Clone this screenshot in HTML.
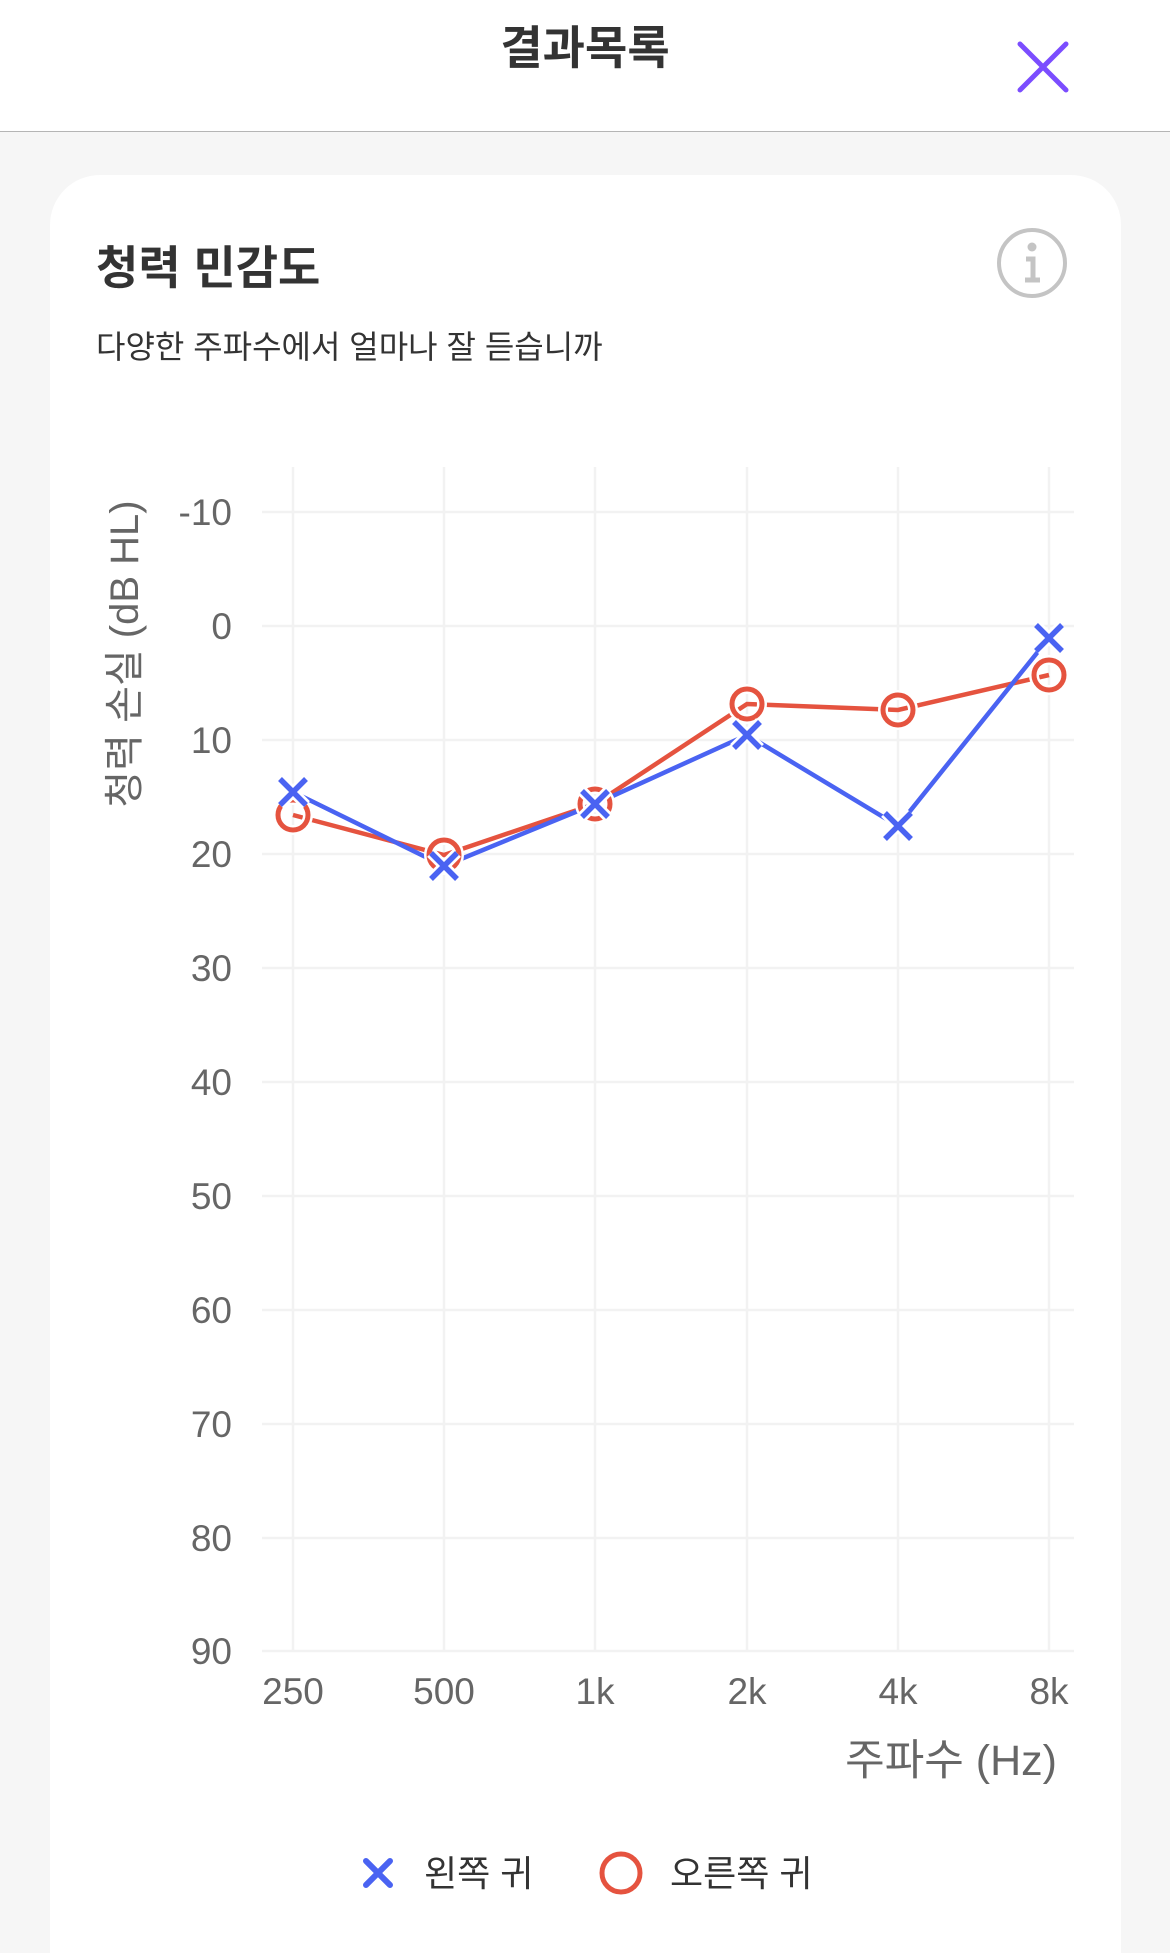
<!DOCTYPE html>
<html style="overflow:hidden;height:1953px"><head><meta charset="utf-8"><style>
body{margin:0;width:1170px;height:1953px;background:#f6f6f6;font-family:"Liberation Sans","Noto Sans CJK KR",sans-serif;overflow:hidden;position:relative}
.hdr{position:absolute;left:0;top:0;width:1170px;height:131px;background:#fff;border-bottom:1.5px solid #b5b5b5}
.card{position:absolute;left:50px;top:175px;width:1071px;height:1778px;background:#fff;border-radius:50px 50px 0 0}
</style></head><body>
<div class="hdr"></div>
<div style="position:absolute;left:0;width:1170px;top:12px;text-align:center;font-size:46px;font-weight:bold;color:#333">결과목록</div>
<svg style="position:absolute;left:1017px;top:41px" width="52" height="52"><path d="M3 3L49 49M49 3L3 49" stroke="#7b4dff" stroke-width="5" stroke-linecap="round"/></svg>
<div class="card"></div>
<div style="position:absolute;left:96px;top:232px;font-size:46px;font-weight:bold;color:#333">청력 민감도</div>
<div style="position:absolute;left:96px;top:322px;font-size:32px;color:#333">다양한 주파수에서 얼마나 잘 듣습니까</div>
<svg style="position:absolute;left:0;top:0" width="1170" height="1953" font-family="Liberation Sans, Noto Sans CJK KR, sans-serif">
<circle cx="1032" cy="263" r="33" fill="none" stroke="#c4c4c4" stroke-width="4"/>
<circle cx="1032" cy="247" r="4.5" fill="#c4c4c4"/>
<path d="M1026 259h7v20M1025 280h15" stroke="#c4c4c4" stroke-width="5" fill="none"/>
<g stroke="#f2f2f2" stroke-width="2.5">
<line x1="262" x2="1074" y1="512" y2="512"/><line x1="262" x2="1074" y1="626" y2="626"/><line x1="262" x2="1074" y1="740" y2="740"/><line x1="262" x2="1074" y1="854" y2="854"/><line x1="262" x2="1074" y1="968" y2="968"/><line x1="262" x2="1074" y1="1082" y2="1082"/><line x1="262" x2="1074" y1="1196" y2="1196"/><line x1="262" x2="1074" y1="1310" y2="1310"/><line x1="262" x2="1074" y1="1424" y2="1424"/><line x1="262" x2="1074" y1="1538" y2="1538"/><line x1="262" x2="1074" y1="1651" y2="1651"/>
<line x1="293" x2="293" y1="467" y2="1651"/><line x1="444" x2="444" y1="467" y2="1651"/><line x1="595" x2="595" y1="467" y2="1651"/><line x1="747" x2="747" y1="467" y2="1651"/><line x1="898" x2="898" y1="467" y2="1651"/><line x1="1049" x2="1049" y1="467" y2="1651"/>
</g>
<g fill="#666" font-size="37" text-anchor="end">
<text x="232" y="525">-10</text><text x="232" y="639">0</text><text x="232" y="753">10</text><text x="232" y="867">20</text><text x="232" y="981">30</text><text x="232" y="1095">40</text><text x="232" y="1209">50</text><text x="232" y="1323">60</text><text x="232" y="1437">70</text><text x="232" y="1551">80</text><text x="232" y="1664">90</text>
</g>
<g fill="#666" font-size="37" text-anchor="middle">
<text x="293" y="1704">250</text><text x="444" y="1704">500</text><text x="595" y="1704">1k</text><text x="747" y="1704">2k</text><text x="898" y="1704">4k</text><text x="1049" y="1704">8k</text>
</g>
<text x="1057" y="1775" fill="#666" font-size="43" text-anchor="end">주파수 (Hz)</text>
<text transform="translate(138,654) rotate(-90)" fill="#666" font-size="40" text-anchor="middle">청력 손실 (dB HL)</text>
<polyline points="293,815 444,855 595,804 747,704 898,710 1049,675" fill="none" stroke="#e5533f" stroke-width="4.5"/>
<polyline points="293,792 444,866 595,804 747,735 898,826 1049,638" fill="none" stroke="#4a63f2" stroke-width="4.5"/>
<g fill="none">
<g stroke="#fff" stroke-width="10"><circle cx="293" cy="815" r="15"/><circle cx="444" cy="855" r="15"/><circle cx="595" cy="804" r="15"/><circle cx="747" cy="704" r="15"/><circle cx="898" cy="710" r="15"/><circle cx="1049" cy="675" r="15"/></g>
<g stroke="#e5533f" stroke-width="5"><circle cx="293" cy="815" r="15"/><circle cx="444" cy="855" r="15"/><circle cx="595" cy="804" r="15"/><circle cx="747" cy="704" r="15"/><circle cx="898" cy="710" r="15"/><circle cx="1049" cy="675" r="15"/></g>
<path d="M280 779l26 26m0-26l-26 26M431 853l26 26m0-26l-26 26M582 791l26 26m0-26l-26 26M734 722l26 26m0-26l-26 26M885 813l26 26m0-26l-26 26M1036 625l26 26m0-26l-26 26" stroke="#fff" stroke-width="11"/>
<path d="M280 779l26 26m0-26l-26 26M431 853l26 26m0-26l-26 26M582 791l26 26m0-26l-26 26M734 722l26 26m0-26l-26 26M885 813l26 26m0-26l-26 26M1036 625l26 26m0-26l-26 26" stroke="#4a63f2" stroke-width="5.5"/>
<path d="M366 1861l24 24m0-24l-24 24" stroke="#4a63f2" stroke-width="6" stroke-linecap="round"/>
<circle cx="621" cy="1873" r="19" stroke="#e5533f" stroke-width="5"/>
</g>
<text x="424" y="1886" fill="#333" font-size="36">왼쪽 귀</text>
<text x="670" y="1886" fill="#333" font-size="36">오른쪽 귀</text>
</svg>
</body></html>
